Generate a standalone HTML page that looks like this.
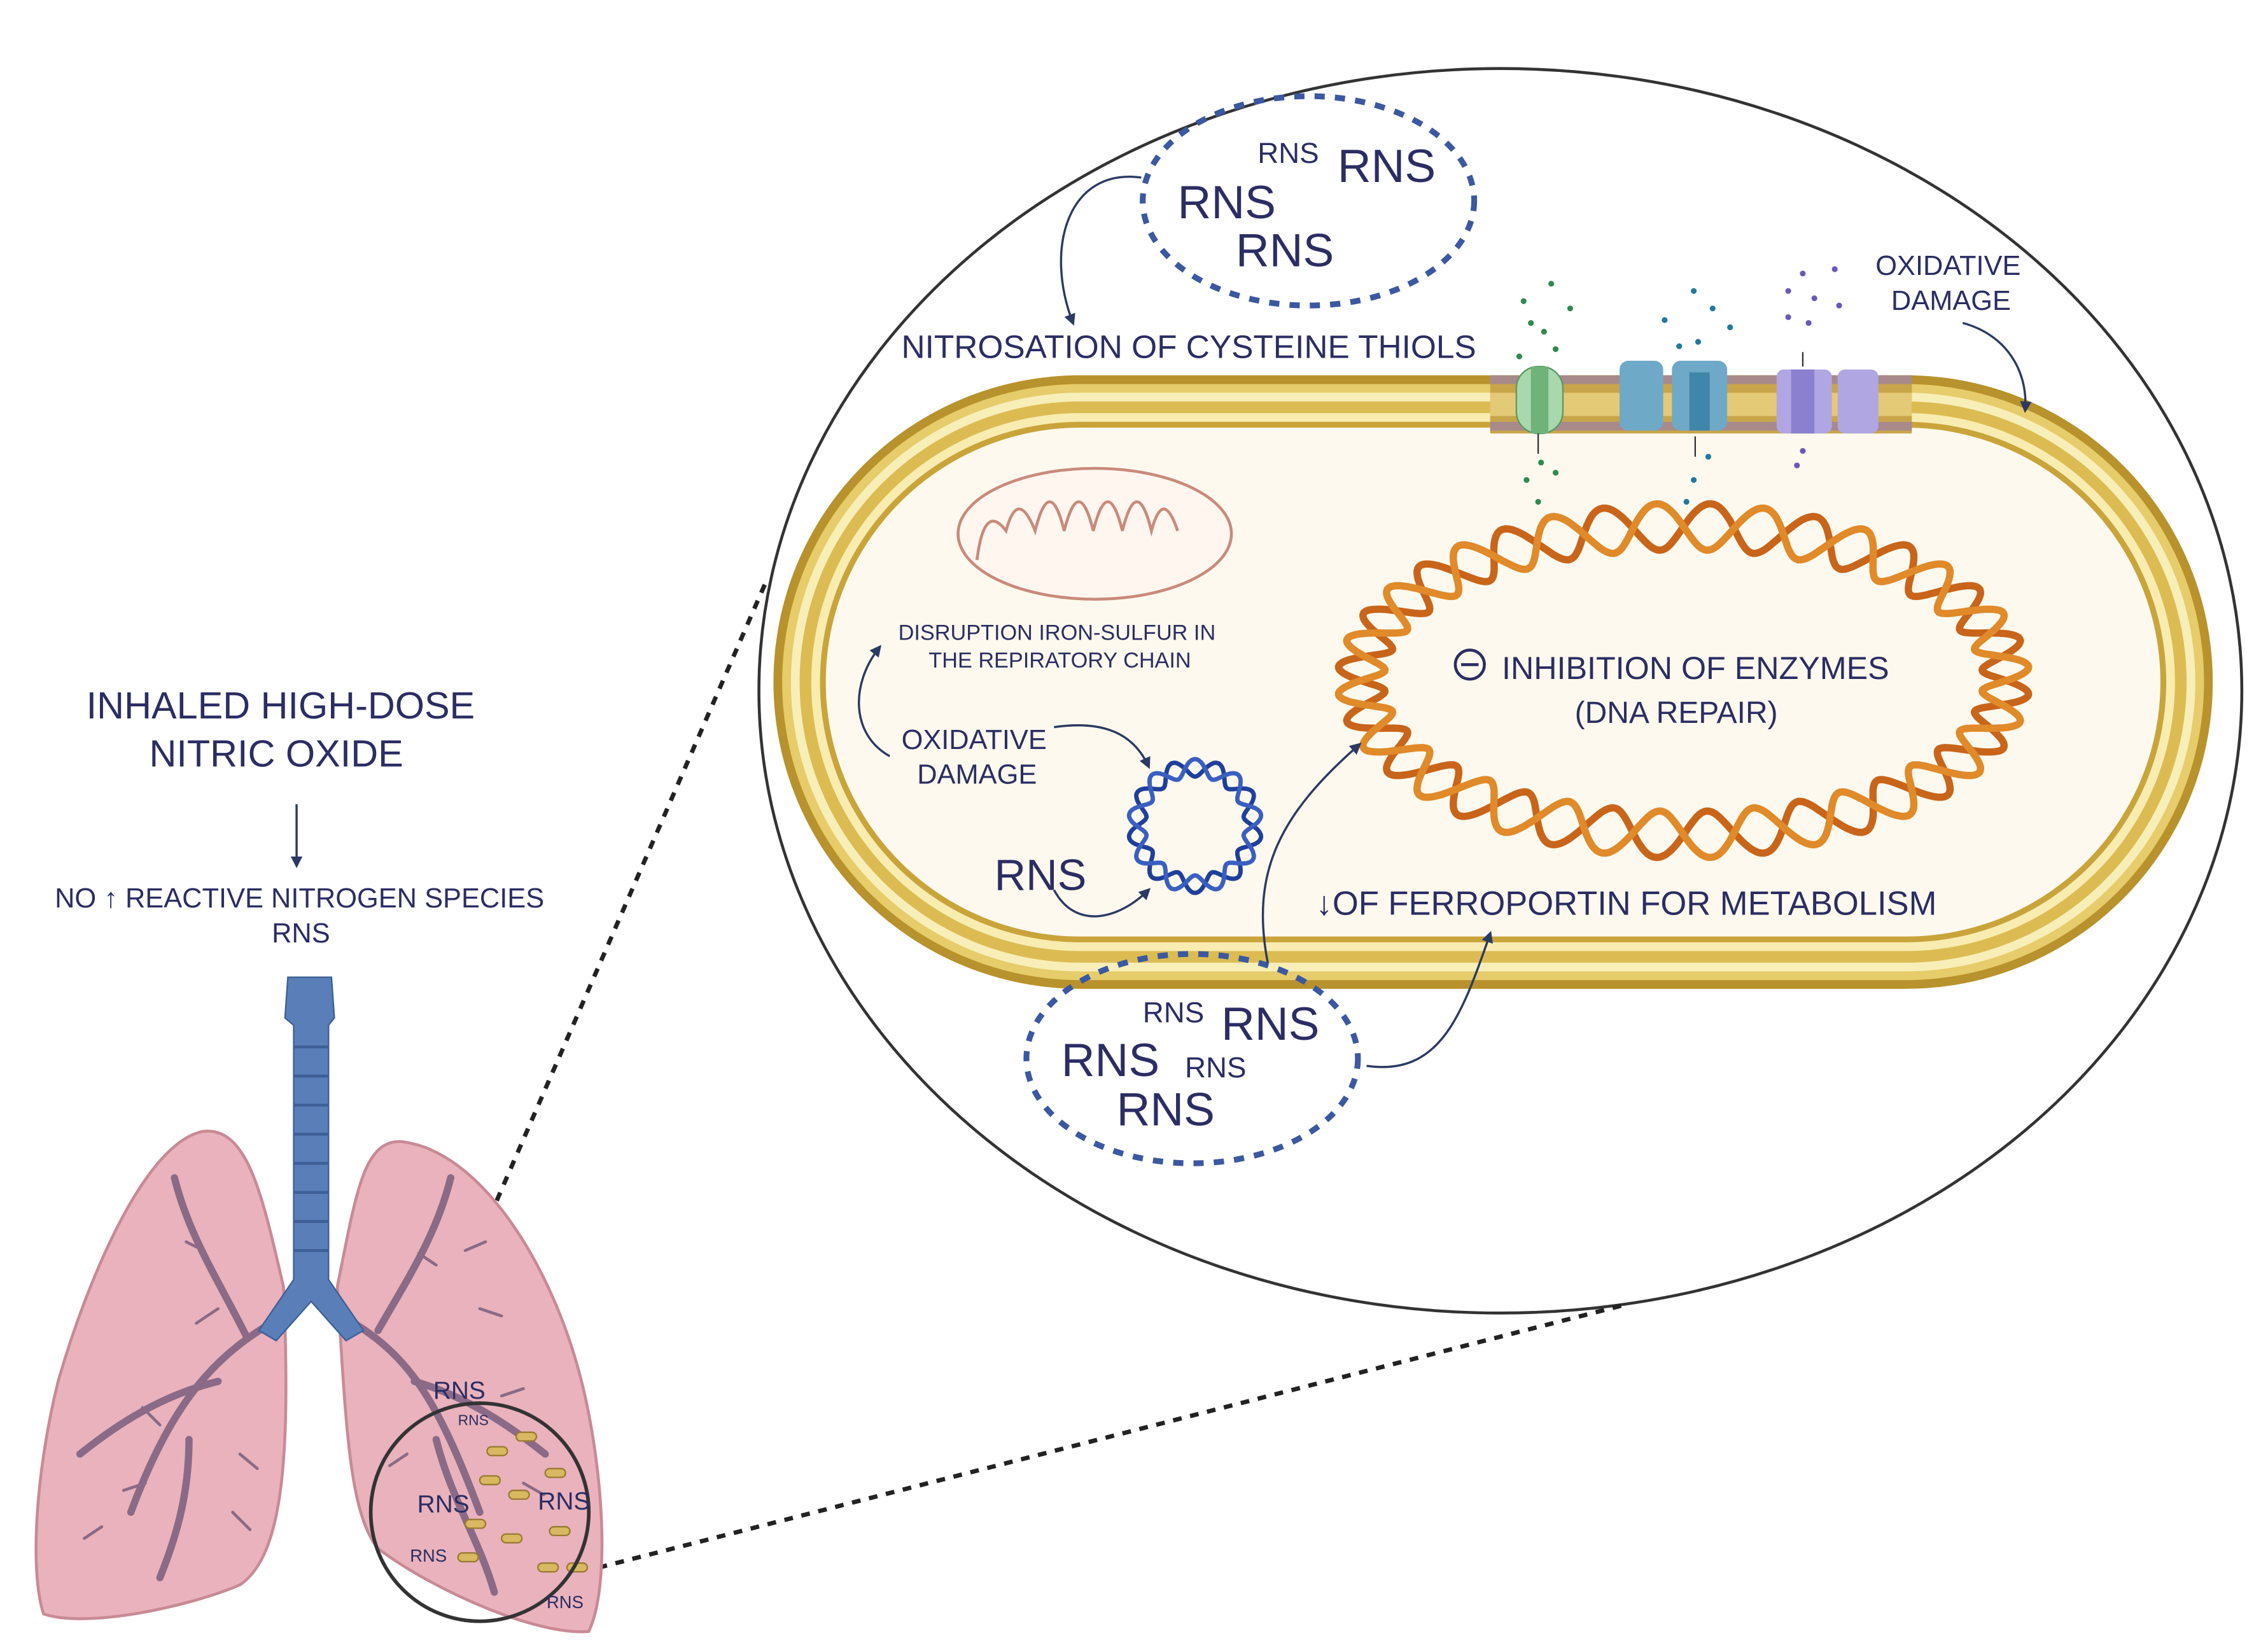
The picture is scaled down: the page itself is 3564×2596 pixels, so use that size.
<!DOCTYPE html>
<html><head><meta charset="utf-8"><style>
html,body{margin:0;padding:0;background:#fff;}
svg{display:block;}
text{font-family:"Liberation Sans",sans-serif;fill:#2b2d63;}
</style></head><body>
<svg id="s" width="3564" height="2596" viewBox="0 0 1560 1136" xmlns="http://www.w3.org/2000/svg">
<defs>
<marker id="ah" markerWidth="8" markerHeight="8" refX="6" refY="4" orient="auto" markerUnits="userSpaceOnUse"><path d="M0,0 L8,4 L0,8 Z" fill="#2b3a63"/></marker>
</defs>
<ellipse cx="1032" cy="475" rx="510" ry="428" fill="#fff" stroke="#333" stroke-width="2"/>
<line x1="526" y1="402" x2="268" y2="995" stroke="#222" stroke-width="3" stroke-dasharray="6,6"/>
<line x1="1115" y1="898" x2="412" y2="1078" stroke="#222" stroke-width="3" stroke-dasharray="6,6"/>

<rect x="532" y="258" width="990" height="422" rx="211" fill="#b8922c"/>
<rect x="538" y="264" width="978" height="410" rx="205" fill="#e6cc6a"/>
<rect x="544" y="270" width="966" height="398" rx="199" fill="#f8eeb8"/>
<rect x="550" y="276" width="954" height="386" rx="193" fill="#dcbc52"/>
<rect x="558" y="284" width="938" height="370" rx="185" fill="#f8ecb0"/>
<rect x="564" y="290" width="926" height="358" rx="179" fill="#c9a43a"/>
<rect x="568" y="294" width="918" height="350" rx="175" fill="#fdf9ee"/>

<rect x="1025" y="258" width="290" height="40" fill="#c8a54a"/>
<g fill="#a88a8a">
<rect x="1025" y="258" width="290" height="6"/><rect x="1025" y="290" width="290" height="6"/>
</g>
<rect x="1025" y="270" width="290" height="16" fill="#efd98a" opacity="0.7"/>
<rect x="1043" y="252" width="32" height="46" rx="15" fill="#a8d8ac" stroke="#5a9a62"/>
<rect x="1053" y="252" width="12" height="46" fill="#6fb27a"/>
<rect x="1114" y="248" width="30" height="48" rx="6" fill="#6fa9c8"/>
<rect x="1150" y="248" width="38" height="48" rx="6" fill="#6fa9c8"/>
<rect x="1162" y="256" width="14" height="40" fill="#3f86a8"/>
<rect x="1222" y="254" width="38" height="44" rx="5" fill="#b0a6e2"/>
<rect x="1232" y="254" width="16" height="44" fill="#8b7fd0"/>
<rect x="1264" y="254" width="28" height="44" rx="5" fill="#b0a6e2"/>
<g fill="#2e8a4e">
<circle cx="1062" cy="228" r="2"/><circle cx="1045" cy="245" r="2"/><circle cx="1070" cy="240" r="2"/><circle cx="1053" cy="222" r="2"/><circle cx="1080" cy="212" r="2"/><circle cx="1048" cy="207" r="2"/><circle cx="1067" cy="195" r="2"/><circle cx="1060" cy="318" r="2"/><circle cx="1050" cy="330" r="2"/><circle cx="1070" cy="325" r="2"/><circle cx="1058" cy="345" r="2"/>
</g>
<g fill="#1f7a9c">
<circle cx="1165" cy="200" r="2"/><circle cx="1178" cy="212" r="2"/><circle cx="1145" cy="220" r="2"/><circle cx="1168" cy="235" r="2"/><circle cx="1190" cy="225" r="2"/><circle cx="1155" cy="238" r="2"/><circle cx="1175" cy="314" r="2"/><circle cx="1165" cy="330" r="2"/><circle cx="1160" cy="345" r="2"/>
</g>
<g fill="#6a58b8">
<circle cx="1240" cy="188" r="2"/><circle cx="1262" cy="185" r="2"/><circle cx="1230" cy="200" r="2"/><circle cx="1248" cy="205" r="2"/><circle cx="1265" cy="210" r="2"/><circle cx="1244" cy="222" r="2"/><circle cx="1230" cy="218" r="2"/><circle cx="1240" cy="310" r="2"/><circle cx="1236" cy="320" r="2"/>
</g>

<ellipse cx="753" cy="367" rx="94" ry="45" fill="#fff6f0" stroke="#c98a7a" stroke-width="2"/>
<path d="M672,385 q5,-40 20,-20 q8,-30 20,0 q10,-40 20,0 q10,-40 20,0 q10,-40 20,0 q10,-40 20,0 q8,-30 18,0" fill="none" stroke="#c98a7a" stroke-width="2"/>

<g id="dna"></g>
<g id="plas"></g>

<ellipse cx="900" cy="138" rx="114" ry="72" fill="none" stroke="#3b58a0" stroke-width="4" stroke-dasharray="7,7"/>
<ellipse cx="820" cy="728" rx="114" ry="72" fill="none" stroke="#3b58a0" stroke-width="4" stroke-dasharray="7,7"/>

<g fill="none" stroke="#2b3a63" stroke-width="1.5" marker-end="url(#ah)">
<path d="M785,122 C735,115 718,170 738,222"/>
<path d="M1350,222 C1380,230 1395,255 1393,282"/>
<path d="M612,520 C585,505 585,470 605,445"/>
<path d="M725,500 C760,495 780,505 790,527"/>
<path d="M725,612 C740,640 770,632 790,612"/>
<path d="M872,662 C860,600 880,560 935,512"/>
<path d="M940,733 C990,740 1005,700 1025,642"/>
<path d="M204,553 L204,595"/>
</g>
<g stroke="#333" stroke-width="1"><line x1="1058" y1="298" x2="1058" y2="312"/><line x1="1166" y1="300" x2="1166" y2="314"/><line x1="1240" y1="242" x2="1240" y2="252"/></g>

<text x="865" y="112" font-size="20">RNS</text>
<text x="920" y="125" font-size="32">RNS</text>
<text x="810" y="150" font-size="32">RNS</text>
<text x="850" y="183" font-size="32">RNS</text>
<text x="620" y="246" font-size="22.5">NITROSATION OF CYSTEINE THIOLS</text>
<text x="1340" y="189" font-size="19" text-anchor="middle">OXIDATIVE</text>
<text x="1342" y="213" font-size="19" text-anchor="middle">DAMAGE</text>
<text x="727" y="440" font-size="15" text-anchor="middle">DISRUPTION IRON-SULFUR IN</text>
<text x="729" y="459" font-size="15" text-anchor="middle">THE REPIRATORY CHAIN</text>
<text x="670" y="515" font-size="19" text-anchor="middle">OXIDATIVE</text>
<text x="672" y="539" font-size="19" text-anchor="middle">DAMAGE</text>
<text x="684" y="612" font-size="30">RNS</text>
<circle cx="1011" cy="457" r="10" fill="none" stroke="#2b2d63" stroke-width="2"/><line x1="1005" y1="457" x2="1017" y2="457" stroke="#2b2d63" stroke-width="2"/>
<text x="1033" y="467" font-size="22">INHIBITION OF ENZYMES</text>
<text x="1153" y="497" font-size="21" text-anchor="middle">(DNA REPAIR)</text>
<text x="905" y="629" font-size="23">↓OF FERROPORTIN FOR METABOLISM</text>
<text x="786" y="703" font-size="20">RNS</text>
<text x="840" y="715" font-size="32">RNS</text>
<text x="730" y="740" font-size="32">RNS</text>
<text x="815" y="741" font-size="20">RNS</text>
<text x="768" y="774" font-size="32">RNS</text>
<text x="193" y="494" font-size="26" text-anchor="middle">INHALED HIGH-DOSE</text>
<text x="190" y="527" font-size="26" text-anchor="middle">NITRIC OXIDE</text>
<text x="206" y="624" font-size="19" text-anchor="middle">NO ↑ REACTIVE NITROGEN SPECIES</text>
<text x="207" y="648" font-size="19" text-anchor="middle">RNS</text>

<path d="M195,885 C180,820 170,775 140,778 C100,785 60,880 40,950 C25,1010 20,1080 30,1110 C60,1120 130,1105 165,1090 C195,1070 200,1000 195,885 Z" fill="#e9b2bc" stroke="#c88a95" stroke-width="2"/>
<path d="M232,885 C245,820 250,785 275,785 C330,790 380,870 400,950 C415,1010 420,1090 405,1122 C370,1125 300,1095 260,1065 C240,1040 238,980 232,885 Z" fill="#e9b2bc" stroke="#c88a95" stroke-width="2"/>
<g fill="none" stroke="#8a6a86" stroke-width="5" stroke-linecap="round">
<path d="M195,905 C150,930 120,960 90,1040"/><path d="M170,920 C150,880 130,850 120,810"/><path d="M150,950 C110,960 80,980 55,1000"/><path d="M130,990 C130,1030 120,1060 110,1085"/>
<path d="M235,905 C280,930 300,960 330,1040"/><path d="M260,915 C280,880 300,850 310,810"/><path d="M285,950 C320,960 350,980 375,1000"/><path d="M300,990 C310,1030 330,1060 340,1095"/>
</g>
<g fill="none" stroke="#8a6a86" stroke-width="2" stroke-linecap="round">
<path d="M110,980 l-12,-12 M100,1020 l-15,5 M140,860 l-12,-6 M150,900 l-15,10 M70,1050 l-12,8 M165,1000 l12,10 M160,1040 l12,12"/>
<path d="M320,860 l14,-6 M330,900 l15,5 M345,960 l15,-5 M360,1020 l14,8 M280,1000 l-12,8 M300,870 l-12,-8"/>
</g>
<path d="M198,672 L228,672 L230,700 L226,705 L226,880 L250,915 L238,922 L214,895 L190,922 L178,915 L202,880 L202,705 L196,700 Z" fill="#5a7fb8" stroke="#3d5f96"/>
<g stroke="#3d5f96" stroke-width="2">
<line x1="202" y1="720" x2="226" y2="720"/><line x1="202" y1="740" x2="226" y2="740"/><line x1="202" y1="760" x2="226" y2="760"/><line x1="202" y1="780" x2="226" y2="780"/><line x1="202" y1="800" x2="226" y2="800"/><line x1="202" y1="820" x2="226" y2="820"/><line x1="202" y1="840" x2="226" y2="840"/><line x1="202" y1="860" x2="226" y2="860"/>
</g>
<g fill="#d8b860" stroke="#9a7a30" stroke-width="1">
<rect x="335" y="995" width="14" height="6" rx="3"/><rect x="355" y="985" width="14" height="6" rx="3"/><rect x="330" y="1015" width="14" height="6" rx="3"/><rect x="350" y="1025" width="14" height="6" rx="3"/><rect x="375" y="1010" width="14" height="6" rx="3"/><rect x="320" y="1045" width="14" height="6" rx="3"/><rect x="345" y="1055" width="14" height="6" rx="3"/><rect x="378" y="1050" width="14" height="6" rx="3"/><rect x="315" y="1068" width="14" height="6" rx="3"/><rect x="370" y="1075" width="14" height="6" rx="3"/><rect x="390" y="1075" width="14" height="6" rx="3"/>
</g>
<circle cx="330" cy="1040" r="75" fill="none" stroke="#333" stroke-width="2.5"/>
<text x="298" y="962" font-size="17">RNS</text>
<text x="315" y="980" font-size="10">RNS</text>
<text x="287" y="1040" font-size="17">RNS</text>
<text x="370" y="1038" font-size="17">RNS</text>
<text x="282" y="1074" font-size="12">RNS</text>
<text x="376" y="1106" font-size="12">RNS</text>
</svg>
<script>
(function(){
var NS="http://www.w3.org/2000/svg";
function helix(g,cx,cy,rx,ry,amp,n,w,c1,c2){
 for(var k=0;k<2;k++){
  var d="";
  for(var i=0;i<=720;i++){
   var t=i/720*2*Math.PI;
   var s=amp*Math.sin(n*t+k*Math.PI);
   var x=cx+(rx+s)*Math.cos(t);
   var y=cy+(ry+s)*Math.sin(t);
   d+=(i?"L":"M")+x.toFixed(1)+","+y.toFixed(1);
  }
  var p=document.createElementNS(NS,"path");
  p.setAttribute("d",d);p.setAttribute("fill","none");
  p.setAttribute("stroke",k?c2:c1);p.setAttribute("stroke-width",w);
  g.appendChild(p);
 }
}
helix(document.getElementById("dna"),1158,468,222,106,16,20,5,"#c8651a","#e08a2a");
helix(document.getElementById("plas"),822,568,40,40,6,9,3,"#1f3f9a","#3a5fc0");
})();
</script>
</body></html>
